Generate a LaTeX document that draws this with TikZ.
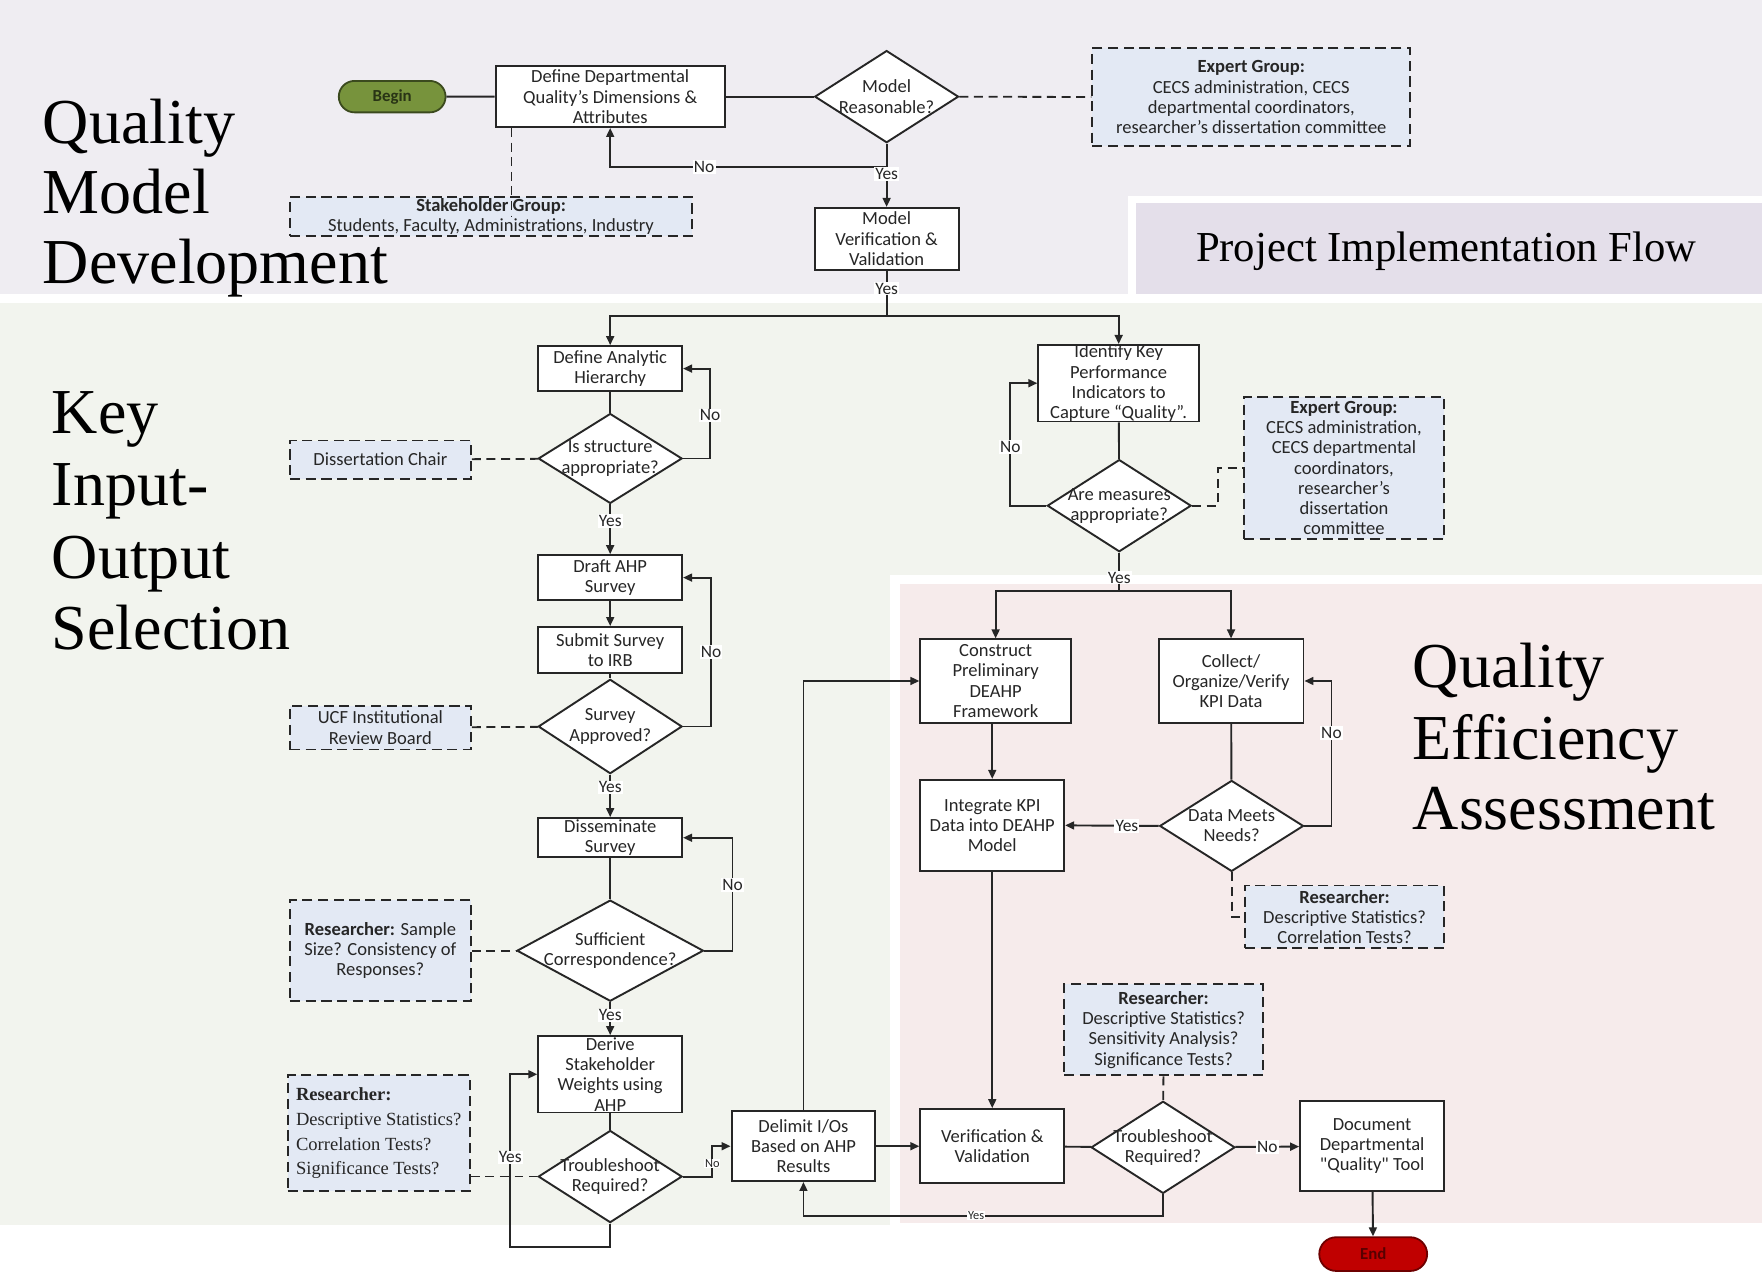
\documentclass[tikz,border=0pt]{standalone}
\usepackage{fontspec}
\newfontfamily\boxfont{Carlito}
\newfontfamily\titlefont{Liberation Serif}
\usetikzlibrary{arrows.meta,shapes.geometric,shapes.misc,calc}
\definecolor{bgtop}{HTML}{EFEDF2}
\definecolor{bgpif}{HTML}{E4DFEA}
\definecolor{bggreen}{HTML}{F2F4EE}
\definecolor{bgpink}{HTML}{F6EBEB}
\definecolor{dfill}{HTML}{E3E9F4}
\definecolor{lc}{HTML}{262626}
\definecolor{txt}{HTML}{262626}
\definecolor{beginfill}{HTML}{77933C}
\definecolor{beginline}{HTML}{3B4A1E}
\definecolor{endfill}{HTML}{C00000}
\definecolor{endline}{HTML}{6E0000}
\newcommand\bxf{\boxfont\fontsize{16.5}{18}\selectfont}
\newcommand\lbf{\boxfont\fontsize{15.5}{15.5}\selectfont}
\newcommand\slbf{\boxfont\fontsize{11}{11}\selectfont}
\newcommand\ttf{\titlefont\fontsize{57}{63}\selectfont}
\begin{document}
\begin{tikzpicture}[x=1pt,y=-1pt,
  box/.style={draw=lc,line width=1.7pt,fill=white,align=center,text=txt,font=\bxf,inner sep=0pt},
  dia/.style={diamond,draw=lc,line width=1.7pt,fill=white,inner sep=0pt},
  dtxt/.style={align=center,text=txt,font=\bxf,inner sep=0pt},
  dbox/.style={draw=lc,line width=1.7pt,dash pattern=on 9pt off 5pt,fill=dfill,align=center,text=txt,font=\bxf,inner sep=0pt},
  pill/.style={rounded rectangle,line width=1.6pt,inner sep=0pt,font=\boxfont\fontsize{15}{15}\selectfont\bfseries},
  ln/.style={draw=lc,line width=1.7pt},
  ar/.style={ln,-{Triangle[length=8pt,width=7pt]}},
  dl/.style={draw=lc,line width=1.6pt,dash pattern=on 8pt off 5pt},
  lbl/.style={font=\lbf,fill=white,inner sep=1pt,text=txt},
  slbl/.style={font=\slbf,fill=white,inner sep=0.5pt,text=txt},
  ttl/.style={font=\ttf,anchor=base west,inner sep=0pt,text=black}]
\useasboundingbox (0,0) rectangle (1568,1132);
% backgrounds
\fill[white] (0,0) rectangle (1568,1132);
\fill[bgtop] (0,0) rectangle (1568,262);
\fill[white] (1004,174) rectangle (1568,268);
\fill[bgpif] (1011,181) rectangle (1568,262);
\fill[bggreen] (0,270) rectangle (1568,1090);
\fill[white] (792,512) rectangle (1568,1090);
\fill[bgpink] (801,520) rectangle (1568,1088);
% titles
\node[ttl] (qa) at (38,128) {Quality};
\node[ttl] (qb) at (38,190) {Model};
\node[ttl] (qc) at (38,252) {Development};
\node[ttl] (ka) at (46,386) {Key};
\node[ttl] (kb) at (46,450) {Input-};
\node[ttl] (kc) at (46,515) {Output};
\node[ttl] (kd) at (46,578) {Selection};
\node[ttl] (ea) at (1257,612) {Quality};
\node[ttl] (eb) at (1257,676) {Efficiency};
\node[ttl] (ec) at (1257,738) {Assessment};
\node[font=\titlefont\fontsize{38}{40}\selectfont,anchor=base,inner sep=0pt] (pif) at (1287,233) {Project Implementation Flow};
% top section
\node[pill,fill=beginfill,draw=beginline,text=beginline!70!black,minimum width=95,minimum height=28] (begin) at (349,86) {Begin};
\node[box,minimum width=204,minimum height=54] (def1) at (543,86) {Define Departmental\\Quality’s Dimensions \&\\Attributes};
\node[dia,minimum width=128,minimum height=82,label={[dtxt]center:{Model\\Reasonable?}}] (mr) at (789,86) {};
\node[dbox,minimum width=283,minimum height=87] (eg1) at (1113.5,86.5) {\textbf{Expert Group:}\\CECS administration, CECS\\departmental coordinators,\\researcher’s dissertation committee};
\node[dbox,minimum width=358,minimum height=35] (sh) at (437,192.5) {\textbf{Stakeholder Group:}\\Students, Faculty, Administrations, Industry};
\node[box,minimum width=128,minimum height=55] (mv) at (789,212.5) {Model\\Verification \&\\Validation};
% left column
\node[box,minimum width=128,minimum height=40] (dah) at (543,328) {Define Analytic\\Hierarchy};
\node[dia,minimum width=128,minimum height=80,label={[dtxt]center:{Is structure\\appropriate?}}] (isa) at (543,408) {};
\node[dbox,minimum width=161,minimum height=34] (dc) at (338.5,409) {Dissertation Chair};
\node[box,minimum width=128,minimum height=40] (draft) at (543,514) {Draft AHP\\Survey};
\node[box,minimum width=128,minimum height=41] (submit) at (543,578.5) {Submit Survey\\to IRB};
\node[dia,minimum width=128,minimum height=84,label={[dtxt]center:{Survey\\Approved?}}] (sa) at (543,646.5) {};
\node[dbox,minimum width=161,minimum height=39] (ucf) at (338.5,647.5) {UCF Institutional\\Review Board};
\node[box,minimum width=128,minimum height=35] (dis) at (543,745.5) {Disseminate\\Survey};
\node[dia,minimum width=166,minimum height=90,label={[dtxt]center:{Sufficient\\Correspondence?}}] (sc) at (543,846) {};
\node[dbox,minimum width=161,minimum height=90] (r1) at (338.5,846) {\textbf{Researcher:} Sample\\Size? Consistency of\\Responses?};
\node[box,minimum width=128,minimum height=68] (der) at (543,956) {Derive\\Stakeholder\\Weights using\\AHP};
\node[dia,minimum width=128,minimum height=82,label={[dtxt]center:{Troubleshoot\\Required?}}] (ts1) at (543,1047) {};
\node[dbox,minimum width=162,minimum height=103,align=left,font=\titlefont\fontsize{16.5}{22}\selectfont] (r2) at (337,1008.5) {\textbf{Researcher:}\\Descriptive Statistics?\\Correlation Tests?\\Significance Tests?};
\node[box,minimum width=128,minimum height=62] (delim) at (715,1020) {Delimit I/Os\\Based on AHP\\Results};
% right column
\node[box,minimum width=143,minimum height=68] (ikpi) at (995.5,341) {Identify Key\\Performance\\Indicators to\\Capture “Quality”.};
\node[dia,minimum width=128,minimum height=82,label={[dtxt]center:{Are measures\\appropriate?}}] (ama) at (996,450) {};
\node[dbox,minimum width=178,minimum height=127] (eg2) at (1196,416.5) {\textbf{Expert Group:}\\CECS administration,\\CECS departmental\\coordinators,\\researcher’s\\dissertation\\committee};
\node[box,minimum width=134,minimum height=74] (con) at (886,606) {Construct\\Preliminary\\DEAHP\\Framework};
\node[box,minimum width=129,minimum height=74] (col) at (1095.5,606) {Collect/\\Organize/Verify\\KPI Data};
\node[box,minimum width=128,minimum height=81] (int) at (883,734.5) {Integrate KPI\\Data into DEAHP\\Model};
\node[dia,minimum width=128,minimum height=81,label={[dtxt]center:{Data Meets\\Needs?}}] (dmn) at (1096,735) {};
\node[dbox,minimum width=177,minimum height=56] (r3) at (1196.5,816) {\textbf{Researcher:}\\Descriptive Statistics?\\Correlation Tests?};
\node[box,minimum width=128,minimum height=66] (vv) at (883,1020) {Verification \&\\Validation};
\node[dia,minimum width=128,minimum height=82,label={[dtxt]center:{Troubleshoot\\Required?}}] (ts2) at (1035,1021) {};
\node[dbox,minimum width=177,minimum height=81] (r4) at (1035.5,916.5) {\textbf{Researcher:}\\Descriptive Statistics?\\Sensitivity Analysis?\\Significance Tests?};
\node[box,minimum width=128,minimum height=80] (doc) at (1221,1020) {Document\\Departmental\\"Quality" Tool};
\node[pill,fill=endfill,draw=endline,text=endline!80!black,minimum width=96,minimum height=30] (end) at (1222,1116) {End};
% top connectors
\draw[ln] (begin) -- (def1);
\draw[ln] (def1) -- (mr);
\draw[dl] (mr) -- (eg1);
\draw[dl] ([xshift=15pt]def1.south west) -- ([xshift=15pt]def1.south west |- sh.center);
\draw[ar] (mr.south) -- ++(0,21) -| (def1.south) node[lbl,pos=0.33] {No};
\draw[ar] (mr.south) -- (mv.north) node[lbl,pos=0.48] {Yes};
\coordinate (sp1) at ($(mv.south)+(0,40)$);
\draw[ln] (mv.south) -- (sp1) node[lbl,pos=0.4] {Yes};
\draw[ar] (sp1) -| (dah.north);
\draw[ar] (sp1) -| (ikpi.north);
% left column connectors
\draw[ln] (dah) -- (isa);
\draw[ar] (isa.east) -- ++(24,0) |- (dah.east) node[lbl,pos=0.24] {No};
\draw[dl] (dc) -- (isa);
\draw[ar] (isa) -- (draft) node[lbl,pos=0.33] {Yes};
\draw[ar] (draft) -- (submit);
\draw[ln] (submit) -- (sa);
\draw[ar] (sa.east) -- ++(25,0) |- (draft.east) node[lbl,pos=0.25] {No};
\draw[dl] (ucf) -- (sa);
\draw[ar] (sa) -- (dis) node[lbl,pos=0.3] {Yes};
\draw[ln] (dis) -- (sc);
\draw[ar] (sc.east) -- ++(25,0) |- (dis.east) node[lbl,pos=0.29] {No};
\draw[dl] (r1) -- (sc);
\draw[ar] (sc) -- (der) node[lbl,pos=0.4] {Yes};
\draw[ln] (der) -- (ts1);
\draw[ar] (ts1.south) -- ++(0,21) -| ([xshift=-24pt]der.west) node[lbl,pos=0.76] {Yes} -- (der.west);
\draw[dl] (r2.east |- ts1.west) -- (ts1.west);
\draw[ar] (ts1.east) -- ++(26,0) |- (delim.west) node[slbl,pos=0.22] {No};
\draw[ar] (delim.north) |- (con.west);
\draw[ar] (delim.east) -- (vv.west);
% right column connectors
\draw[ln] (ikpi) -- (ama);
\draw[ar] (ama.west) -- ++(-32,0) |- (ikpi.west) node[lbl,pos=0.24] {No};
\draw[dl] (ama.east) -- ++(23,0) |- (eg2.west);
\coordinate (sp2) at ($(ama.south)+(0,34)$);
\draw[ln] (ama.south) -- (sp2) node[lbl,pos=0.65] {Yes};
\draw[ar] (sp2) -| (con.north);
\draw[ar] (sp2) -| (col.north);
\draw[ar] (int.north |- con.south) -- (int.north);
\draw[ar] (int) -- (vv);
\draw[ln] (col) -- (dmn);
\draw[ar] (dmn.east) -- ++(24,0) |- (col.east) node[lbl,pos=0.32] {No};
\draw[ar] (dmn.west) -- (int.east) node[lbl,pos=0.34] {Yes};
\draw[dl] (dmn.south) |- (r3.west);
\draw[ln] (vv) -- (ts2);
\draw[dl] (r4) -- (ts2);
\draw[ar] (ts2) -- (doc) node[lbl,pos=0.5] {No};
\draw[ar] (ts2.south) -- ++(0,19) -| (delim.south) node[slbl,pos=0.26] {Yes};
\draw[ar] (doc) -- (end);
\end{tikzpicture}
\end{document}
